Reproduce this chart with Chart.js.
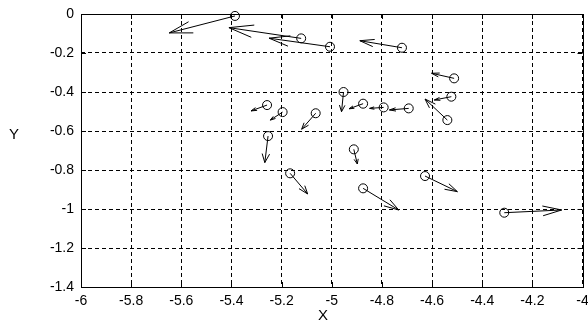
<!DOCTYPE html>
<html>
<head>
<meta charset="utf-8">
<script src="https://cdn.jsdelivr.net/npm/chart.js@4"></script>
<style>
  html, body { margin: 0; padding: 0; background: #fff; }
  #wrap { width: 588px; height: 326px; }
</style>
</head>
<body>
<div id="wrap"><canvas id="quiverCanvas" width="588" height="326"></canvas></div>
<script>
// circle positions
const xs = [-5.386, -5.122, -5.007, -4.720, -4.512, -4.523, -4.539, -4.693, -4.793, -4.875,
  -4.953, -5.064, -5.258, -5.196, -5.254, -4.912, -5.166, -4.875, -4.628, -4.312];
const ys = [-0.010, -0.125, -0.168, -0.173, -0.330, -0.424, -0.544, -0.484, -0.479, -0.460,
  -0.400, -0.509, -0.467, -0.503, -0.626, -0.694, -0.817, -0.894, -0.831, -1.019];
// arrow components
const us = [-0.262, -0.288, -0.243, -0.168, -0.090, -0.068, -0.089, -0.077, -0.056, -0.056,
  -0.008, -0.056, -0.064, -0.049, -0.013, 0.014, 0.070, 0.142, 0.129, 0.229];
const vs = [-0.087, 0.055, 0.044, 0.036, 0.026, -0.017, 0.108, -0.008, -0.005, -0.026,
  -0.101, -0.082, -0.030, -0.041, -0.136, -0.075, -0.106, -0.111, -0.080, 0.014];

const xTicks = [-6, -5.8, -5.6, -5.4, -5.2, -5, -4.8, -4.6, -4.4, -4.2, -4];
const yTicks = [-1.4, -1.2, -1, -0.8, -0.6, -0.4, -0.2, 0];

const labelFont = '"Liberation Sans", Arial, sans-serif';

function fmt(v) {
  return String(Math.round(v * 10) / 10);
}

// arrows in data units, like matlab quiver (alpha = beta = 0.33)
const quiverPlugin = {
  id: 'quiver',
  afterDatasetsDraw(chart) {
    const { ctx, scales: { x, y } } = chart;
    const alpha = 0.33, beta = 0.33;
    ctx.save();
    ctx.strokeStyle = '#000';
    ctx.lineWidth = 1;
    xs.forEach((x0, i) => {
      const y0 = ys[i], u = us[i], v = vs[i];
      const tx = x0 + u, ty = y0 + v;
      const h1x = tx - alpha * (u + beta * v), h1y = ty - alpha * (v - beta * u);
      const h2x = tx - alpha * (u - beta * v), h2y = ty - alpha * (v + beta * u);
      ctx.beginPath();
      ctx.moveTo(x.getPixelForValue(x0), y.getPixelForValue(y0));
      ctx.lineTo(x.getPixelForValue(tx), y.getPixelForValue(ty));
      ctx.moveTo(x.getPixelForValue(h1x), y.getPixelForValue(h1y));
      ctx.lineTo(x.getPixelForValue(tx), y.getPixelForValue(ty));
      ctx.lineTo(x.getPixelForValue(h2x), y.getPixelForValue(h2y));
      ctx.stroke();
    });
    ctx.restore();
  }
};

// box, tick marks and axis titles
const framePlugin = {
  id: 'frame',
  afterDraw(chart) {
    const { ctx, chartArea: a, scales: { x, y } } = chart;
    ctx.save();
    ctx.strokeStyle = '#000';
    ctx.lineWidth = 1;
    ctx.strokeRect(Math.round(a.left) + 0.5, Math.round(a.top) + 0.5,
      Math.round(a.right - a.left), Math.round(a.bottom - a.top));
    ctx.beginPath();
    xTicks.forEach(t => {
      const px = Math.round(x.getPixelForValue(t)) + 0.5;
      ctx.moveTo(px, a.bottom); ctx.lineTo(px, a.bottom - 5);
      ctx.moveTo(px, a.top); ctx.lineTo(px, a.top + 5);
    });
    yTicks.forEach(t => {
      const py = Math.round(y.getPixelForValue(t)) + 0.5;
      ctx.moveTo(a.left, py); ctx.lineTo(a.left + 5, py);
      ctx.moveTo(a.right, py); ctx.lineTo(a.right - 5, py);
    });
    ctx.stroke();

    ctx.fillStyle = '#000';
    ctx.font = '15px ' + labelFont;
    ctx.textAlign = 'center';
    ctx.textBaseline = 'middle';
    ctx.fillText('X', 323, 316);
    ctx.fillText('Y', 14, 135);
    ctx.restore();
  }
};

new Chart(document.getElementById('quiverCanvas'), {
  type: 'scatter',
  data: {
    datasets: [{
      data: xs.map((x, i) => ({ x, y: ys[i] })),
      pointStyle: 'circle',
      pointRadius: 4.5,
      pointBorderWidth: 1,
      pointBorderColor: '#000',
      pointBackgroundColor: 'rgba(0,0,0,0)',
      showLine: false,
      clip: false
    }]
  },
  options: {
    responsive: false,
    animation: false,
    layout: { padding: { left: 0, right: 3, top: 14, bottom: 0 } },
    plugins: {
      legend: { display: false },
      tooltip: { enabled: false }
    },
    scales: {
      x: {
        type: 'linear',
        min: -6,
        max: -4,
        afterBuildTicks: scale => { scale.ticks = xTicks.map(value => ({ value })); },
        afterFit: scale => {
          scale.height = 39;
          scale.paddingLeft = 0;
          scale.paddingRight = 0;
        },
        grid: { color: '#000', lineWidth: 1, drawTicks: false },
        border: { display: false, dash: [4, 3] },
        ticks: {
          color: '#000',
          font: { family: labelFont, size: 14 },
          padding: 6,
          maxRotation: 0,
          autoSkip: false,
          callback: v => fmt(v)
        }
      },
      y: {
        type: 'linear',
        min: -1.4,
        max: 0,
        afterBuildTicks: scale => { scale.ticks = yTicks.map(value => ({ value })); },
        afterFit: scale => {
          scale.width = 81;
          scale.paddingTop = 0;
          scale.paddingBottom = 0;
        },
        grid: { color: '#000', lineWidth: 1, drawTicks: false },
        border: { display: false, dash: [4, 3] },
        ticks: {
          color: '#000',
          font: { family: labelFont, size: 14 },
          padding: 7,
          autoSkip: false,
          callback: v => fmt(v)
        }
      }
    }
  },
  plugins: [quiverPlugin, framePlugin]
});
</script>
</body>
</html>
